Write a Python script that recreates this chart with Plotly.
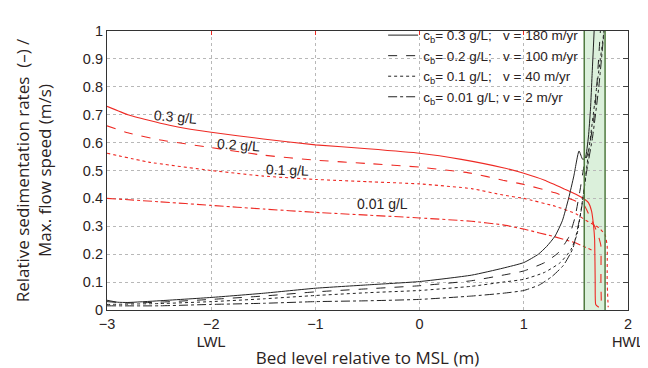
import plotly.graph_objects as go

# ---- data ----
# flow speed (red)
v03_x = [-3.0, -2.8, -2.6, -2.4, -2.2, -2.0, -1.5, -1.0, -0.5, 0.0, 0.4, 0.8, 1.0, 1.2, 1.4, 1.5, 1.58, 1.62, 1.65, 1.67, 1.68, 1.685, 1.69, 1.72]
v03_y = [0.730, 0.700, 0.680, 0.662, 0.648, 0.637, 0.613, 0.592, 0.578, 0.562, 0.540, 0.510, 0.490, 0.465, 0.432, 0.415, 0.398, 0.385, 0.355, 0.300, 0.250, 0.100, 0.020, 0.010]
v02_x = [-3.0, -2.8, -2.5, -2.0, -1.5, -1.0, -0.5, 0.0, 0.5, 0.8, 1.0, 1.3, 1.5, 1.58, 1.64, 1.68, 1.72, 1.74, 1.74, 1.745]
v02_y = [0.660, 0.635, 0.610, 0.582, 0.555, 0.537, 0.525, 0.512, 0.490, 0.465, 0.450, 0.420, 0.390, 0.375, 0.330, 0.300, 0.260, 0.230, 0.100, 0.010]
v01_x = [-3.0, -2.6, -2.0, -1.5, -1.0, -0.5, 0.0, 0.5, 0.8, 1.0, 1.3, 1.5, 1.58, 1.65, 1.72, 1.78, 1.80, 1.80, 1.81]
v01_y = [0.562, 0.530, 0.500, 0.480, 0.468, 0.460, 0.452, 0.435, 0.412, 0.400, 0.372, 0.345, 0.325, 0.310, 0.295, 0.270, 0.230, 0.100, 0.010]
v001_x = [-3.0, -2.5, -2.0, -1.5, -1.0, -0.5, 0.0, 0.5, 0.8, 1.0, 1.3, 1.5, 1.65]
v001_y = [0.400, 0.388, 0.375, 0.362, 0.350, 0.340, 0.330, 0.318, 0.305, 0.290, 0.262, 0.240, 0.215]

# relative sedimentation rates (black)
s03_x = [-3.0, -2.9, -2.8, -2.5, -2.0, -1.5, -1.0, -0.5, 0.0, 0.5, 0.8, 1.0, 1.14, 1.22, 1.30, 1.37, 1.43, 1.48, 1.53, 1.565, 1.59, 1.62, 1.64, 1.655, 1.675]
s03_y = [0.035, 0.028, 0.027, 0.033, 0.045, 0.060, 0.078, 0.090, 0.102, 0.125, 0.150, 0.170, 0.200, 0.228, 0.265, 0.320, 0.400, 0.480, 0.570, 0.540, 0.545, 0.620, 0.720, 0.840, 1.000]
s02_x = [-3.0, -2.8, -2.5, -2.0, -1.5, -1.0, -0.5, 0.0, 0.5, 0.8, 1.0, 1.2, 1.33, 1.43, 1.49, 1.54, 1.58, 1.62, 1.67, 1.70, 1.735]
s02_y = [0.030, 0.025, 0.028, 0.038, 0.050, 0.065, 0.076, 0.087, 0.105, 0.125, 0.140, 0.170, 0.205, 0.260, 0.330, 0.430, 0.520, 0.570, 0.680, 0.800, 1.000]
s01_x = [-3.0, -2.5, -2.0, -1.5, -1.0, -0.5, 0.0, 0.5, 0.8, 1.0, 1.2, 1.35, 1.45, 1.51, 1.57, 1.62, 1.70, 1.77]
s01_y = [0.020, 0.023, 0.030, 0.040, 0.052, 0.062, 0.070, 0.085, 0.100, 0.110, 0.135, 0.170, 0.215, 0.270, 0.410, 0.560, 0.800, 1.000]
s001_x = [-3.0, -2.5, -2.0, -1.5, -1.0, -0.5, 0.0, 0.5, 0.8, 1.0, 1.15, 1.27, 1.38, 1.47, 1.55, 1.60, 1.66, 1.72, 1.77]
s001_y = [0.015, 0.015, 0.020, 0.024, 0.030, 0.033, 0.038, 0.050, 0.060, 0.070, 0.090, 0.120, 0.160, 0.220, 0.355, 0.490, 0.620, 0.800, 1.000]

legend_names = [
    "c<sub>b</sub>= 0.3 g/L;\u00a0\u00a0 v = 180 m/yr",
    "c<sub>b</sub>= 0.2 g/L;\u00a0\u00a0 v = 100 m/yr",
    "c<sub>b</sub>= 0.1 g/L;\u00a0\u00a0 v = 40 m/yr",
    "c<sub>b</sub>= 0.01 g/L; v = 2 m/yr",
]

label_text = ["0.3 g/L", "0.2 g/L", "0.1 g/L", "0.01 g/L"]
label_x = [-2.34, -1.74, -1.27, -0.36]
label_y = [0.693, 0.590, 0.503, 0.380]
label_angle = [5, 4, 2, 0]

band_x = [1.58, 1.78]

x_tickvals = [-3, -2, -1, 0, 1, 2]
x_ticktext = ["\u22123", "\u22122<br>LWL", "\u22121", "0", "1", "2<br>HWL"]
y_tickvals = [0, 0.1, 0.2, 0.3, 0.4, 0.5, 0.6, 0.7, 0.8, 0.9, 1]
y_ticktext = ["0", "0.1", "0.2", "0.3", "0.4", "0.5", "0.6", "0.7", "0.8", "0.9", "1"]

dashes = ["solid", "dash", "dot", "dashdot"]
red_sets = [(v03_x, v03_y), (v02_x, v02_y), (v01_x, v01_y), (v001_x, v001_y)]
blk_sets = [(s03_x, s03_y), (s02_x, s02_y), (s01_x, s01_y), (s001_x, s001_y)]

TXT = "#2a2222"
SANS = "Arial, 'Liberation Sans', sans-serif"
TITLEF = "'Open Sans', sans-serif"
fig = go.Figure()

for (xs, ys), d in zip(red_sets, dashes):
    fig.add_trace(go.Scatter(x=xs, y=ys, mode="lines", showlegend=False,
                             line=dict(color="#ee2a24", width=1.1, dash=d,
                                       shape="spline", smoothing=0.4)))
for (xs, ys), d, nm in zip(blk_sets, dashes, legend_names):
    fig.add_trace(go.Scatter(x=xs, y=ys, mode="lines", name=nm,
                             line=dict(color="#222222", width=1.0, dash=d,
                                       shape="spline", smoothing=0.5)))

# empty trace to activate top/right axes
fig.add_trace(go.Scatter(x=[], y=[], xaxis="x2", yaxis="y2", showlegend=False))

fig.add_shape(type="rect", xref="x", yref="y", x0=band_x[0], x1=band_x[1], y0=0, y1=1,
              fillcolor="rgba(200,232,200,0.65)", line=dict(width=0), layer="below")
for bx in band_x:
    fig.add_shape(type="line", xref="x", yref="y", x0=bx, x1=bx, y0=0, y1=1,
                  line=dict(color="#4f7a3f", width=1.5))

for t, lx, ly, a in zip(label_text, label_x, label_y, label_angle):
    fig.add_annotation(x=lx, y=ly, text=t, showarrow=False, textangle=a,
                       font=dict(family=SANS, size=14, color=TXT))

fig.update_layout(
    width=648, height=368,
    margin=dict(l=99, r=21, t=13, b=64),
    paper_bgcolor="white", plot_bgcolor="white",
    font=dict(family=SANS, size=14, color=TXT),
    xaxis=dict(range=[-3, 2], tickvals=x_tickvals, ticktext=x_ticktext,
               showgrid=True, gridcolor="#b8b8b8", griddash="dot", gridwidth=1,
               showline=True, linecolor="#333333", linewidth=1.2, mirror=True,
               ticks="", zeroline=False, tickfont=dict(family=SANS, size=14.5, color=TXT),
               title=dict(text="Bed level relative to MSL (m)", standoff=2,
                          font=dict(family=TITLEF, size=17, color=TXT))),
    yaxis=dict(range=[0, 1], tickvals=y_tickvals, ticktext=y_ticktext,
               showgrid=True, gridcolor="#b8b8b8", griddash="dot", gridwidth=1,
               showline=True, linecolor="#333333", linewidth=1.2, mirror=True,
               ticks="", zeroline=False, tickfont=dict(family=SANS, size=14.5, color=TXT),
               title=dict(text="Relative sedimentation rates\u00a0 (\u2013) /<br>Max. flow speed (m/s)",
                          standoff=26, font=dict(family=TITLEF, size=17, color=TXT))),
    xaxis2=dict(overlaying="x", side="top", matches="x", range=[-3, 2],
                tickvals=x_tickvals, ticks="inside", ticklen=4, tickcolor="#ee2a24",
                tickwidth=1.2, showticklabels=False, showgrid=False, zeroline=False),
    yaxis2=dict(overlaying="y", side="right", range=[0, 1], tickvals=y_tickvals,
                ticks="inside", ticklen=5, tickcolor="#444444", tickwidth=1.2,
                showticklabels=False, showgrid=False, zeroline=False),
    legend=dict(x=0.53, y=1.04, xanchor="left", yanchor="top",
                bgcolor="rgba(0,0,0,0)", borderwidth=0,
                font=dict(family=SANS, size=13.5, color=TXT),
                tracegroupgap=0, itemwidth=30),
    showlegend=True,
)

fig.write_html("out.html")
